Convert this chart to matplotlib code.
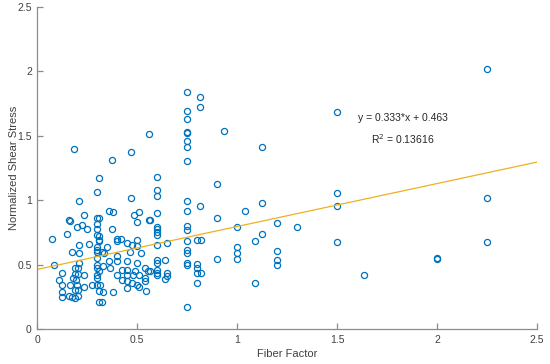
import matplotlib
matplotlib.use('Agg')
import matplotlib.pyplot as plt
import numpy as np

# fiber factor / normalized shear stress pairs
fiber = [0.072, 0.085, 0.107, 0.124, 0.124, 0.124, 0.124, 0.147, 0.157, 0.164,
         0.160, 0.165, 0.174, 0.174, 0.180, 0.185, 0.190, 0.190, 0.190, 0.189,
         0.194, 0.197, 0.199, 0.202, 0.205, 0.205, 0.205, 0.210, 0.210, 0.210,
         0.210, 0.222, 0.232, 0.235, 0.235, 0.247, 0.260, 0.274,
         0.297, 0.307, 0.297, 0.310, 0.297, 0.297, 0.297, 0.310, 0.297, 0.297,
         0.297, 0.300, 0.300, 0.300, 0.310, 0.300, 0.300, 0.300, 0.310, 0.310,
         0.306, 0.314, 0.310,
         0.322, 0.334, 0.330, 0.330, 0.322, 0.347, 0.356, 0.359, 0.376, 0.372,
         0.372, 0.364, 0.378, 0.397, 0.400, 0.418, 0.397, 0.397, 0.397, 0.422,
         0.422, 0.448, 0.448, 0.448, 0.448, 0.448, 0.448, 0.464, 0.468, 0.468,
         0.473, 0.473, 0.481, 0.486, 0.489, 0.498, 0.498, 0.500, 0.498, 0.498,
         0.509, 0.511, 0.511, 0.518, 0.539, 0.539, 0.539, 0.544, 0.556, 0.559,
         0.559, 0.564,
         0.598, 0.600, 0.600, 0.600, 0.600, 0.600, 0.600, 0.600, 0.600, 0.600,
         0.600, 0.600, 0.600, 0.600, 0.564, 0.641, 0.648, 0.648, 0.648, 0.641,
         0.75, 0.75, 0.75, 0.75, 0.75, 0.75, 0.75, 0.75, 0.75, 0.75,
         0.75, 0.75, 0.75, 0.75, 0.75, 0.75, 0.75, 0.75,
         0.815, 0.815, 0.815, 0.798, 0.818, 0.798, 0.798, 0.798, 0.818, 0.798,
         0.898, 0.900, 0.900, 0.935, 0.998, 1.000, 1.000, 1.000, 1.040, 1.090,
         1.090, 1.124, 1.124, 1.124, 1.200, 1.300, 1.200, 1.200, 1.200,
         1.5, 1.5, 1.5, 1.5, 1.636, 2.0, 2.0, 2.25, 2.25, 2.25]

stress = [0.70, 0.50, 0.38, 0.435, 0.345, 0.29, 0.25, 0.74, 0.85, 0.84,
          0.255, 0.34, 0.60, 0.25, 0.40, 1.395, 0.47, 0.43, 0.305, 0.24,
          0.38, 0.795, 0.34, 0.255, 0.47, 0.43, 0.305, 0.99, 0.65, 0.59,
          0.51, 0.81, 0.885, 0.42, 0.33, 0.775, 0.66, 0.345,
          1.06, 1.175, 0.865, 0.865, 0.815, 0.775, 0.73, 0.68, 0.64, 0.615,
          0.60, 0.55, 0.50, 0.47, 0.45, 0.42, 0.395, 0.345, 0.295, 0.21,
          0.69, 0.34, 0.724,
          0.60, 0.59, 0.487, 0.287, 0.21, 0.64, 0.526, 0.918, 0.906, 1.312,
          0.775, 0.474, 0.287, 0.70, 0.68, 0.70, 0.565, 0.526, 0.422, 0.46,
          0.383, 0.668, 0.526, 0.46, 0.422, 0.37, 0.318, 0.598, 1.372, 1.015,
          0.655, 0.357, 0.422, 0.885, 0.448, 0.828, 0.69, 0.642, 0.512, 0.344,
          0.911, 0.422, 0.324, 0.59, 0.474, 0.396, 0.37, 0.297, 0.453, 1.514,
          0.846, 0.453,
          1.178, 1.08, 1.035, 0.898, 0.794, 0.78, 0.755, 0.73, 0.65, 0.538,
          0.51, 0.458, 0.432, 0.422, 0.846, 0.536, 0.67, 0.437, 0.41, 0.386,
          1.842, 1.695, 1.633, 1.53, 1.52, 1.46, 1.415, 1.304, 0.996, 0.916,
          0.80, 0.77, 0.686, 0.613, 0.588, 0.515, 0.495, 0.173,
          1.80, 1.72, 0.955, 0.693, 0.693, 0.502, 0.47, 0.432, 0.432, 0.355,
          1.123, 0.864, 0.543, 1.537, 0.794, 0.64, 0.588, 0.543, 0.916, 0.683,
          0.355, 1.415, 0.976, 0.738, 0.825, 0.795, 0.603, 0.536, 0.50,
          1.685, 1.055, 0.955, 0.678, 0.42, 0.55, 0.54, 2.02, 1.017, 0.678]

slope = 0.333
intercept = 0.463
r2 = 0.13616

plt.rcParams['font.family'] = ['Liberation Sans', 'DejaVu Sans']
fig = plt.figure(figsize=(5.5, 3.64), dpi=100)
ax = fig.add_axes([0.068, 0.096, 0.908, 0.885])

ax.plot(fiber, stress, 'o', mfc='none', mec='#0072BD', ms=4.4, mew=0.9)
xl = np.array([0, 2.5])
ax.plot(xl, slope * xl + intercept, color='#EDB120', lw=0.9)

ax.text(1.83, 1.64, 'y = %.3f*x + %.3f' % (slope, intercept),
        ha='center', va='center', fontsize=7.5, color='#262626')
ax.text(1.83, 1.475, 'R$^2$ = %.5f' % r2, ha='center', va='center',
        fontsize=7.5, color='#262626')

ax.set_xlim(0, 2.5)
ax.set_ylim(0, 2.5)
ax.set_xticks([0, 0.5, 1, 1.5, 2, 2.5])
ax.set_yticks([0, 0.5, 1, 1.5, 2, 2.5])
ax.set_xticklabels(['0', '0.5', '1', '1.5', '2', '2.5'])
ax.set_yticklabels(['0', '0.5', '1', '1.5', '2', '2.5'])
ax.spines['top'].set_visible(False)
ax.spines['right'].set_visible(False)
for s in ['left', 'bottom']:
    ax.spines[s].set_color('#8c8c8c')
    ax.spines[s].set_linewidth(0.9)
ax.tick_params(direction='in', length=4, width=0.9, color='#8c8c8c',
               labelsize=7.5, labelcolor='#404040', pad=4)
ax.set_xlabel('Fiber Factor', fontsize=8, color='#404040', labelpad=3)
ax.set_ylabel('Normalized Shear Stress', fontsize=8, color='#404040', labelpad=-1)

fig.savefig('out.png', dpi=100)
